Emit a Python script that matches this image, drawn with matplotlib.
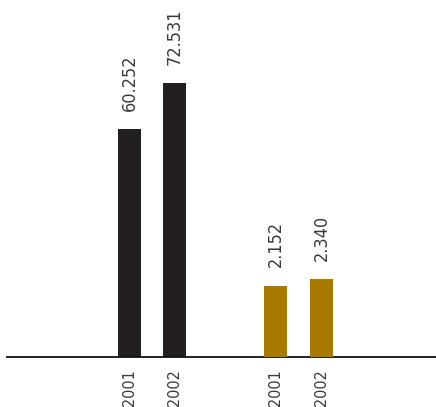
import matplotlib
matplotlib.use("Agg")
import matplotlib.pyplot as plt

# valores por grupo (cada grupo con su propia escala)
anos = ["2001", "2002"]
grupo_a = [60.252, 72.531]
grupo_b = [2.152, 2.340]
etiquetas_a = ["60.252", "72.531"]
etiquetas_b = ["2.152", "2.340"]

color_a = "#231f20"
color_b = "#a87b00"
color_texto = "#3a3a3a"

plt.rcParams["font.family"] = ["DejaVu Sans"]
plt.rcParams["font.stretch"] = "condensed"

fig = plt.figure(figsize=(4.36, 4.07), dpi=100)
ax = fig.add_axes([7 / 436, 50 / 407, 429 / 436, 357 / 407])
ax2 = ax.twinx()

pos_a = [129.5, 174.5]
pos_b = [275.5, 321.5]
ancho = 23

ax.bar(pos_a, grupo_a, width=ancho, color=color_a)
ax2.bar(pos_b, grupo_b, width=ancho, color=color_b)

ax.set_xlim(7, 436)
ax.set_ylim(0, 94.4)
ax2.set_ylim(0, 10.75)

for eje, xs, vals, txts in [(ax, pos_a, grupo_a, etiquetas_a), (ax2, pos_b, grupo_b, etiquetas_b)]:
    for x, v, t in zip(xs, vals, txts):
        eje.annotate(t, (x, v), xytext=(0, 13), textcoords="offset points",
                     rotation=90, ha="center", va="bottom", fontsize=13,
                     color=color_texto, fontstretch="condensed")

# años debajo de la línea base
for x, a in zip(pos_a + pos_b, anos + anos):
    ax.annotate(a, (x, 0), xytext=(0, -8.5), textcoords="offset points",
                rotation=90, ha="center", va="top", fontsize=11.5, color=color_texto,
                fontstretch="condensed", annotation_clip=False)

for eje in (ax, ax2):
    for lado in ["top", "right", "left"]:
        eje.spines[lado].set_visible(False)
    eje.set_xticks([])
    eje.set_yticks([])
ax.spines["bottom"].set_linewidth(1.3)
ax.spines["bottom"].set_color("#111111")
ax2.spines["bottom"].set_visible(False)

fig.savefig("out.png", dpi=100)
